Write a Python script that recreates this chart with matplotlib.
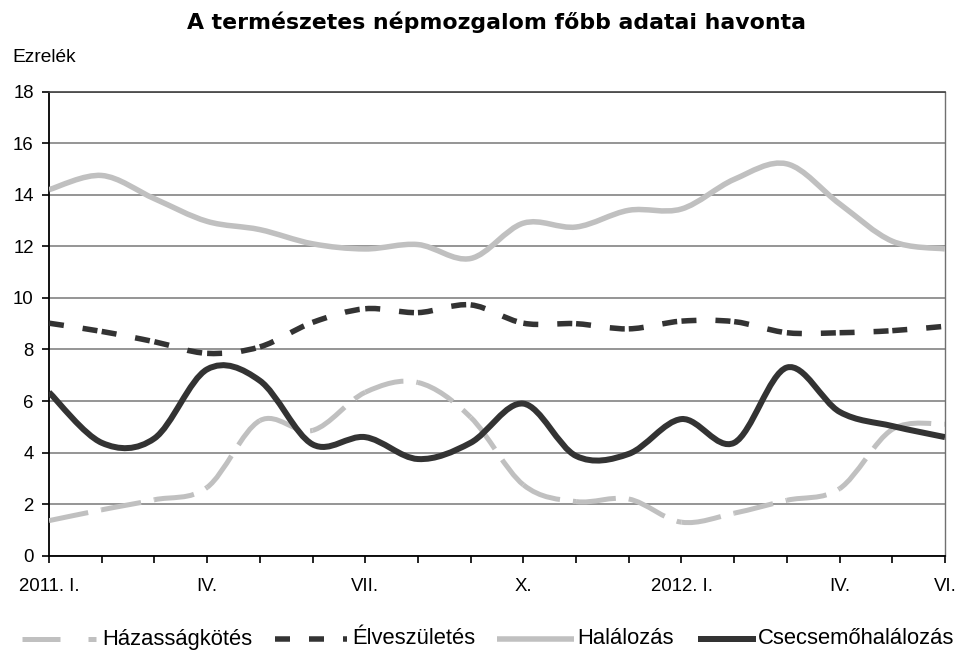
import numpy as np
import matplotlib
matplotlib.use("Agg")
import matplotlib.pyplot as plt
from matplotlib.path import Path
from matplotlib.patches import PathPatch
from matplotlib.lines import Line2D

plt.rcParams['font.family'] = ['Liberation Sans', 'DejaVu Sans']
plt.rcParams['lines.scale_dashes'] = False

# ---- data (per mille, monthly, 2011 Jan .. 2012 Jun) ----
month_labels = ["2011. I.", "", "", "IV.", "", "", "VII.", "", "", "X.", "", "",
                "2012. I.", "", "", "IV.", "", "VI."]
hazassagkotes = [1.36, 1.78, 2.17, 2.65, 5.24, 4.86, 6.34, 6.72, 5.37, 2.75,
                 2.10, 2.20, 1.30, 1.65, 2.15, 2.60, 4.90, 5.10]
eleveszuletes = [9.02, 8.70, 8.30, 7.85, 8.10, 9.05, 9.58, 9.43, 9.73, 9.02,
                 9.00, 8.80, 9.10, 9.08, 8.65, 8.65, 8.73, 8.90]
halalozas = [14.20, 14.75, 13.85, 12.97, 12.65, 12.10, 11.90, 12.07, 11.53, 12.90,
             12.75, 13.40, 13.45, 14.60, 15.20, 13.65, 12.20, 11.90]
csecsemohalalozas = [6.34, 4.38, 4.55, 7.23, 6.79, 4.32, 4.60, 3.75, 4.38, 5.90,
                     3.87, 3.95, 5.30, 4.38, 7.30, 5.58, 5.03, 4.60]
series_names = ["Házasságkötés", "Élveszületés", "Halálozás", "Csecsemőhalálozás"]

W, H = 962, 654
def fx(px): return px / W
def fy(py): return 1 - py / H
def pt(px): return px * 0.72

LIGHT = '#C0C0C0'
DARK = '#333333'


def smooth_segments(ys):
    """Excel-like smoothed line: one cubic Bezier per month interval."""
    xs = np.arange(len(ys), dtype=float)
    p = np.column_stack([xs, np.asarray(ys, float)])
    n = len(p)
    segs = []
    for i in range(n - 1):
        p0 = p[max(i - 1, 0)]
        p1 = p[i]
        p2 = p[i + 1]
        p3 = p[min(i + 2, n - 1)]
        c1 = p1 + (p2 - p0) / 6.0
        c2 = p2 - (p3 - p1) / 6.0
        segs.append([p1, c1, c2, p2])
    return segs


def draw_smooth(ax, ys, color, lw, dashes=None, z=3):
    segs = smooth_segments(ys)
    if dashes is None:
        verts = [segs[0][0]]
        codes = [Path.MOVETO]
        for s in segs:
            verts += [s[1], s[2], s[3]]
            codes += [Path.CURVE4] * 3
        patch = PathPatch(Path(verts, codes), fill=False, edgecolor=color, lw=lw,
                          capstyle='butt', joinstyle='round', zorder=z,
                          transform=ax.transData)
        ax.add_patch(patch)
    else:
        for s in segs:
            path = Path(s, [Path.MOVETO, Path.CURVE4, Path.CURVE4, Path.CURVE4])
            patch = PathPatch(path, fill=False, edgecolor=color, lw=lw,
                              linestyle=(0, dashes), capstyle='butt',
                              joinstyle='round', zorder=z, transform=ax.transData)
            ax.add_patch(patch)


fig = plt.figure(figsize=(W / 100, H / 100), dpi=100)
ax = fig.add_axes([fx(49), fy(555.7), fx(945) - fx(49), fy(91.7) - fy(555.7)])

ax.set_xlim(0, len(month_labels) - 1)
ax.set_ylim(0, 18)
ax.set_yticks(np.arange(0, 19, 2))
ax.set_xticks(np.arange(len(month_labels)))
ax.set_xticklabels(month_labels)

ax.grid(axis='y', color='#8C8C8C', lw=1.3, zorder=0)
ax.set_axisbelow(True)
for side in ['left', 'bottom']:
    ax.spines[side].set_color('black')
    ax.spines[side].set_linewidth(1.3)
ax.spines['top'].set_color('#404040')
ax.spines['top'].set_linewidth(1.2)
ax.spines['right'].set_color('#707070')
ax.spines['right'].set_linewidth(1.0)

ax.tick_params(axis='both', direction='out', length=5, width=1.2, color='black',
               labelsize=13.4, labelcolor='black')
ax.tick_params(axis='y', pad=6)
ax.tick_params(axis='x', pad=11)

dash_haz = (pt(40), pt(13))
dash_elv = (pt(15), pt(19), pt(15), pt(60))

draw_smooth(ax, hazassagkotes, LIGHT, pt(5), dashes=dash_haz, z=3)
draw_smooth(ax, eleveszuletes, DARK, pt(5.5), dashes=dash_elv, z=4)
draw_smooth(ax, halalozas, LIGHT, pt(5.5), z=5)
draw_smooth(ax, csecsemohalalozas, DARK, pt(6), z=6)

# title and unit label
fig.text(fx(497), fy(22), "A természetes népmozgalom főbb adatai havonta",
         ha='center', va='center', fontsize=15.8, fontweight='bold',
         family=['DejaVu Sans'])
fig.text(fx(12), fy(62), "Ezrelék", ha='left', va='baseline', fontsize=13.8)

# legend (manual, bottom)
ly = 639
legend_items = [
    (series_names[0], LIGHT, pt(5), (pt(38), pt(28), pt(8), pt(40)), 22, 96, 102),
    (series_names[1], DARK, pt(5.5), (pt(15), pt(19), pt(15), pt(19)), 275, 347, 352),
    (series_names[2], LIGHT, pt(5.5), None, 497, 574, 577),
    (series_names[3], DARK, pt(6), None, 698, 756, 758),
]
for name, col, lw, dsh, x0, x1, xt in legend_items:
    kw = dict(color=col, lw=lw, solid_capstyle='butt', dash_capstyle='butt',
              transform=fig.transFigure)
    if dsh is not None:
        kw['linestyle'] = (0, dsh)
    fig.add_artist(Line2D([fx(x0), fx(x1)], [fy(ly), fy(ly)], **kw))
    fig.text(fx(xt), fy(ly), name, ha='left', va='center', fontsize=15.8)

fig.savefig("out.png", dpi=100)
